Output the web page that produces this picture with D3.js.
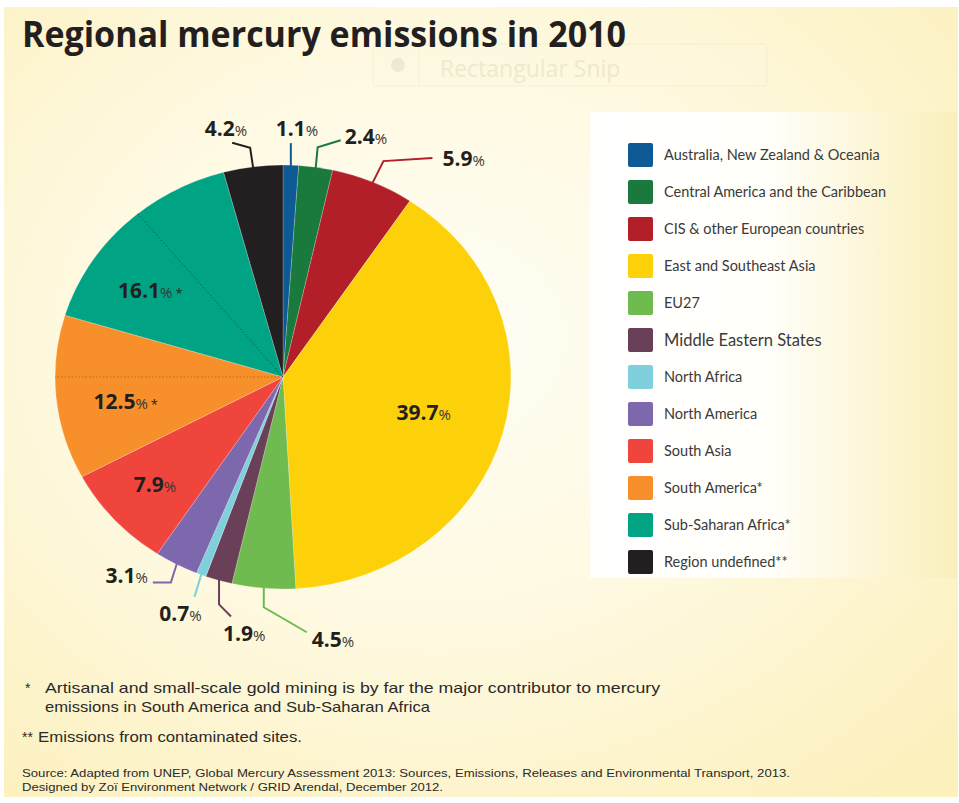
<!DOCTYPE html>
<html>
<head>
<meta charset="utf-8">
<script src="https://cdn.jsdelivr.net/npm/d3@7"></script>
<style>
  body { margin: 0; background: #fff; }
  svg { display: block; }
</style>
</head>
<body>
<svg id="chart" width="959" height="803"></svg>
<script>
// data
const regions = [
  "Australia, New Zealand & Oceania",
  "Central America and the Caribbean",
  "CIS & other European countries",
  "East and Southeast Asia",
  "EU27",
  "Middle Eastern States",
  "North Africa",
  "North America",
  "South Asia",
  "South America*",
  "Sub-Saharan Africa*",
  "Region undefined**"
]
const shares = [1.1, 2.4, 5.9, 39.7, 4.5, 1.9, 0.7, 3.1, 7.9, 12.5, 16.1, 4.2]
const colors = ["#0d5a94", "#1a7a3e", "#b31f28", "#fdd10a", "#6fbb4f", "#6a4058",
                "#7fd0dc", "#7d67ad", "#ef453c", "#f7902a", "#00a484", "#231f20"]
const labelMarks = ["", "", "", "", "", "", "", "", "", "*", "*", ""]
// dotted split lines inside the two artisanal-mining slices, as cumulative %
const dividers = [75.0, 89.0]
const footnotes = [
  ["*", "Artisanal and small-scale gold mining is by far the major contributor to mercury"],
  ["", "emissions in South America and Sub-Saharan Africa"],
  ["**", "Emissions from contaminated sites."]
]
const sources = [
  "Source: Adapted from UNEP, Global Mercury Assessment 2013: Sources, Emissions, Releases and Environmental Transport, 2013.",
  "Designed by Zoï Environment Network / GRID Arendal, December 2012."
]

const svg = d3.select('#chart')
const W = 959, H = 803
const defs = svg.append('defs')

// background glow
const bg = defs.append('radialGradient').attr('id', 'bg')
  .attr('cx', '0.45').attr('cy', '0.42').attr('r', '0.75')
bg.append('stop').attr('offset', '0').attr('stop-color', '#fffef6')
bg.append('stop').attr('offset', '0.5').attr('stop-color', '#fef9e0')
bg.append('stop').attr('offset', '1').attr('stop-color', '#fcf0bd')
svg.append('rect').attr('x', 4).attr('y', 7).attr('width', W - 5).attr('height', 790)
  .attr('fill', 'url(#bg)')

// legend panel fades to yellow at the right
const lg = defs.append('linearGradient').attr('id', 'lg')
lg.append('stop').attr('offset', '0').attr('stop-color', '#ffffff')
lg.append('stop').attr('offset', '0.5').attr('stop-color', '#fffef8')
lg.append('stop').attr('offset', '1').attr('stop-color', '#faefbb')
svg.append('rect').attr('x', 590).attr('y', 112).attr('width', 367).attr('height', 466)
  .attr('fill', 'url(#lg)')

// faint screen-capture overlay that sits in the picture
const snip = svg.append('g').attr('opacity', 0.4)
snip.append('rect').attr('x', 373).attr('y', 44).attr('width', 394).attr('height', 42).attr('rx', 3)
  .attr('fill', '#fdf8e0').attr('stroke', '#ebe3bf')
snip.append('line').attr('x1', 419).attr('x2', 419).attr('y1', 45).attr('y2', 85).attr('stroke', '#ebe3bf')
snip.append('circle').attr('cx', 398).attr('cy', 65).attr('r', 7).attr('fill', '#d6d2c0')
snip.append('text').attr('x', 440).attr('y', 77).text('Rectangular Snip')
  .style('font-family', 'Open Sans').style('font-size', '23px').attr('fill', '#d8d1b0')

// title
svg.append('text').attr('x', 22).attr('y', 47).text('Regional mercury emissions in 2010')
  .attr('textLength', 604).attr('lengthAdjust', 'spacingAndGlyphs')
  .style('font-family', 'Open Sans').style('font-weight', 700).style('font-size', '35px')
  .attr('fill', '#231f20')

// pie
const cx = 283, cy = 377, r = 212, sx = 1.075
const pie = d3.pie().sort(null).value(d => d)
const arcs = pie(shares)
const arc = d3.arc().innerRadius(0).outerRadius(r)
const pct = d3.scaleLinear().domain([0, 100]).range([0, 2 * Math.PI])

const polar = (a, rad) => [cx + sx * rad * Math.sin(a), cy - rad * Math.cos(a)]

const pieG = svg.append('g').attr('transform', `translate(${cx},${cy}) scale(${sx},1)`)
pieG.selectAll('path').data(arcs).enter().append('path')
  .attr('d', arc)
  .attr('fill', (d, i) => colors[i])
  .attr('stroke', '#fff').attr('stroke-opacity', 0.35).attr('stroke-width', 0.6)
  .attr('vector-effect', 'non-scaling-stroke')

// dotted dividers
svg.selectAll('line.div').data(dividers).enter().append('line').attr('class', 'div')
  .attr('x1', cx).attr('y1', cy)
  .attr('x2', d => polar(pct(d), r)[0]).attr('y2', d => polar(pct(d), r)[1])
  .attr('stroke', (d, i) => i == 0 ? '#b86a1e' : '#0b5e4e')
  .attr('stroke-width', 1).attr('stroke-dasharray', '1.5,2')

const mid = d => (d.startAngle + d.endAngle) / 2
const label = (sel, i, anchor) => {
  const t = sel.attr('text-anchor', anchor).attr('fill', '#231f20')
    .style('font-family', 'Open Sans')
  t.append('tspan').text(shares[i].toFixed(1)).style('font-weight', 700).style('font-size', '21px')
  t.append('tspan').text('%').style('font-size', '15px').attr('fill', '#3a3536')
  if (labelMarks[i]) t.append('tspan').attr('dx', 3).text(labelMarks[i]).style('font-size', '13px')
}

// labels inside big slices: radius fraction and angle nudge (degrees)
const inside = {3: [0.64, 0], 8: [0.76, 0], 9: [0.70, -4], 10: [0.71, -11]}
Object.keys(inside).forEach(k => {
  const i = +k, [f, da] = inside[k]
  const p = polar(mid(arcs[i]) + da * Math.PI / 180, r * f)
  label(svg.append('text').attr('x', p[0]).attr('y', p[1] + 7), i, 'middle')
})

// leader-line labels: bends relative to the rim point, then text offset + anchor
const outside = {
  0: {pts: [[0, -23]], t: [6, -7], a: 'middle'},
  1: {pts: [[2, -21], [23, -7]], t: [4, 4], a: 'start'},
  2: {pts: [[11, -22], [49, -3]], t: [10, 8], a: 'start'},
  4: {pts: [[0, 20], [43, 25]], t: [5, 15], a: 'start'},
  5: {pts: [[0, 25], [12, 12]], t: [-8, 25], a: 'start'},
  6: {pts: [[-7, 23]], t: [-14, 24], a: 'middle'},
  7: {pts: [[-6, 19], [-18, 0]], t: [-5, 1], a: 'end'},
  11: {pts: [[-3, -20], [-18, -5]], t: [15, -7], a: 'end'}
}
Object.keys(outside).forEach(k => {
  const i = +k, o = outside[k]
  let p = polar(mid(arcs[i]), r - 1)
  const path = [p]
  o.pts.forEach(d => { p = [p[0] + d[0], p[1] + d[1]]; path.push(p) })
  svg.append('path').attr('d', d3.line()(path)).attr('fill', 'none')
    .attr('stroke', colors[i]).attr('stroke-width', 2)
  label(svg.append('text').attr('x', p[0] + o.t[0]).attr('y', p[1] + o.t[1]), i, o.a)
})

// legend
const leg = svg.append('g')
const rows = leg.selectAll('g').data(regions).enter().append('g')
  .attr('transform', (d, i) => `translate(628,${143 + 37 * i})`)
rows.append('rect').attr('width', 25).attr('height', 24).attr('rx', 2)
  .attr('fill', (d, i) => colors[i])
rows.append('text').attr('x', 36).attr('y', 12).attr('dy', '0.35em').text(d => d)
  .style('font-family', 'Lato').style('font-size', (d, i) => i == 5 ? '16.5px' : '14.5px')
  .attr('fill', '#3a3a3a')

// footnotes
const fn = svg.append('g').style('font-family', 'Liberation Sans').attr('fill', '#2a2a2a')
const fy = [693, 712, 742]
footnotes.forEach((f, i) => {
  if (f[0]) fn.append('text').attr('x', i == 2 ? 22 : 25).attr('y', fy[i]).text(f[0]).style('font-size', '14px')
  fn.append('text').attr('x', i == 2 ? 38 : 45).attr('y', fy[i]).text(f[1]).style('font-size', '14.5px')
    .attr('textLength', [615, 385, 264][i]).attr('lengthAdjust', 'spacingAndGlyphs')
})
sources.forEach((s, i) => {
  fn.append('text').attr('x', 22).attr('y', 777 + 14 * i).text(s).style('font-size', '11px')
    .attr('textLength', [768, 421][i]).attr('lengthAdjust', 'spacingAndGlyphs')
})
</script>
</body>
</html>
